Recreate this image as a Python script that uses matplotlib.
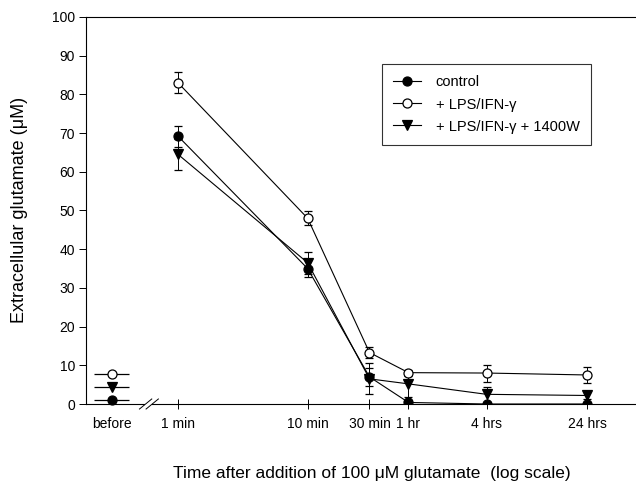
import numpy as np
import matplotlib
matplotlib.use("Agg")
import matplotlib.pyplot as plt
from matplotlib.ticker import NullLocator

plt.rcParams['font.family'] = ['Liberation Sans', 'DejaVu Sans']

# time after glutamate (minutes), plotted on log scale
minutes = [1, 10, 30, 60, 240, 1440]
tick_names = ['before', '1 min', '10 min', '30 min', '1 hr', '4 hrs', '24 hrs']
before_pos = 0.31          # where the "before" group sits left of the break
before_span = (0.225, 0.42)

# extracellular glutamate (uM)
control = [69.2, 35.0, 7.0, 0.4, 0.0, 0.0]
control_err = [2.7, 2.2, 2.3, 0.4, 0.3, 0.3]
lps = [83.0, 48.0, 13.3, 8.1, 8.0, 7.5]
lps_err = [2.7, 1.8, 1.5, 0.8, 2.2, 2.0]
lps_1400w = [64.5, 36.5, 6.5, 5.2, 2.5, 2.2]
lps_1400w_err = [4.0, 2.8, 4.0, 3.3, 2.0, 1.0]

before_control = 1.0
before_lps = 7.8
before_1400w = 4.5

fig = plt.figure(figsize=(6.36, 4.86), dpi=100)
ax = fig.add_axes([86/636, 1-404/486, 0.999-86/636, (404-17)/486])

ax.set_xscale('log')
ax.set_xlim(0.195, 3377)
ax.set_ylim(0, 100)

kw = dict(color='black', lw=0.8, capsize=3, elinewidth=0.7, capthick=0.7,
          markersize=6.5, markeredgewidth=0.9, zorder=3)
c1 = ax.errorbar(minutes, control, yerr=control_err, marker='o', mfc='black', **kw)
c2 = ax.errorbar(minutes, lps, yerr=lps_err, marker='o', mfc='white', **kw)
c3 = ax.errorbar(minutes, lps_1400w, yerr=lps_1400w_err, marker='v', mfc='black', **kw)

# "before" values: mean shown as short horizontal line with marker
for val, mfc, mk in [(before_control, 'black', 'o'), (before_lps, 'white', 'o'),
                     (before_1400w, 'black', 'v')]:
    ax.hlines(val, before_span[0], before_span[1], color='black', lw=0.9, zorder=2)
    ax.plot([before_pos], [val], marker=mk, mfc=mfc, mec='black',
            markersize=6.5, markeredgewidth=0.9, zorder=3, clip_on=False)

# axis break marks
br = [0.56, 0.63]
ax.plot([br[0], br[1]], [0, 0], color='white', lw=3, zorder=4, clip_on=False,
        solid_capstyle='butt')
for b in br:
    ax.plot([b * 0.9, b * 1.12], [-1.3, 1.3], color='black', lw=0.7, zorder=5,
            clip_on=False)

ax.set_xticks([before_pos] + minutes)
ax.set_xticklabels(tick_names, fontsize=10)
ax.xaxis.set_minor_locator(NullLocator())
ax.tick_params(axis='x', direction='inout', length=7, width=0.7, pad=6)
ax.xaxis.get_major_ticks()[0].tick1line.set_visible(False)

ax.set_yticks(np.arange(0, 101, 10))
ax.tick_params(axis='y', direction='out', length=5, width=0.7, labelsize=10, pad=3)

ax.spines['right'].set_visible(False)
for s in ['left', 'bottom', 'top']:
    ax.spines[s].set_linewidth(0.8)

leg = ax.legend([c1[0], c2[0], c3[0]],
                ['control', '+ LPS/IFN-γ', '+ LPS/IFN-γ + 1400W'],
                loc='upper left', bbox_to_anchor=(0.538, 0.879), fontsize=10.5,
                frameon=True, fancybox=False, edgecolor='black', handlelength=1.9,
                borderpad=0.8, labelspacing=0.55, handletextpad=1.0,
                borderaxespad=0, numpoints=1)
leg.get_frame().set_linewidth(0.8)

fig.text(20/636, 1-210/486, 'Extracellular glutamate (μM)', rotation=90,
         ha='center', va='center', fontsize=13)
fig.text(372/636, 1-473/486, 'Time after addition of 100 μM glutamate  (log scale)',
         ha='center', va='center', fontsize=12.5)

fig.savefig('out.png', dpi=100)
